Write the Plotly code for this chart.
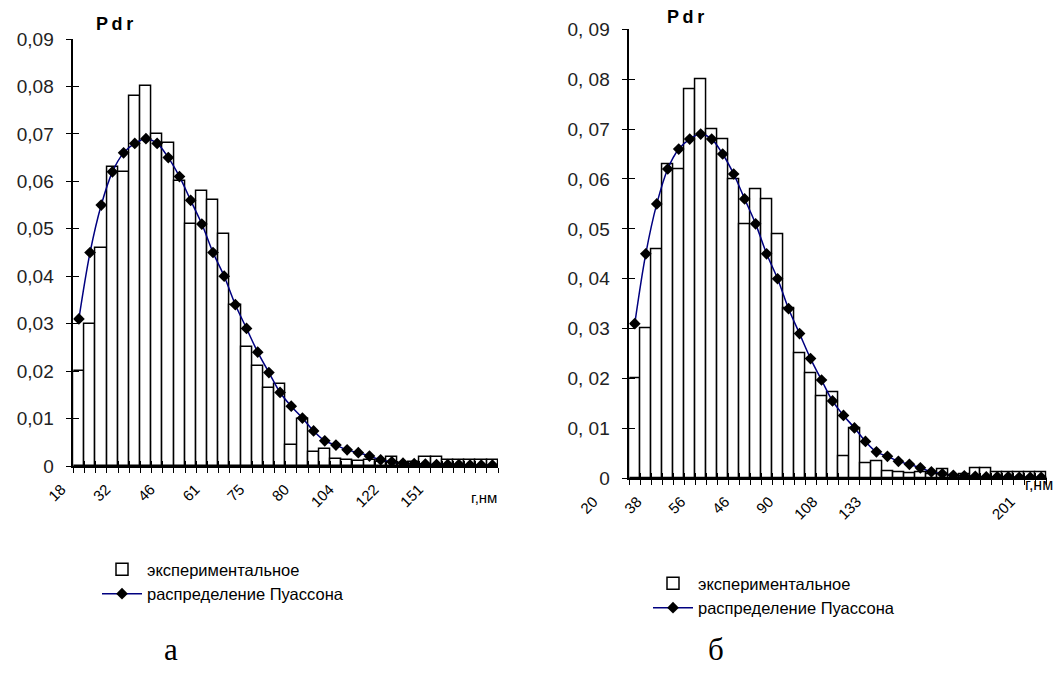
import numpy as np
import plotly.graph_objects as go

# ---- data (both panels show the same distribution) ----
experimental = [0.020, 0.030, 0.046, 0.063, 0.062, 0.078, 0.080, 0.070, 0.068, 0.060,
                0.051, 0.058, 0.056, 0.049, 0.034, 0.025, 0.021, 0.0165, 0.0173, 0.0045,
                0.010, 0.003, 0.0035, 0.0014, 0.0012, 0.0010, 0.0012, 0.0008, 0.0018, 0.0006,
                0.0008, 0.0020, 0.0020, 0.0012, 0.0012, 0.0012, 0.0012, 0.0012]
poisson = [0.031, 0.045, 0.055, 0.062, 0.066, 0.068, 0.069, 0.068, 0.065, 0.061,
           0.056, 0.051, 0.045, 0.040, 0.034, 0.029, 0.024, 0.0197, 0.0155, 0.0126,
           0.0101, 0.0074, 0.0053, 0.0044, 0.0034, 0.0028, 0.0021, 0.0013, 0.0009, 0.0006,
           0.0005, 0.0004, 0.0003, 0.0003, 0.0003, 0.0002, 0.0002, 0.0002]

y_tick_vals = [0, 0.01, 0.02, 0.03, 0.04, 0.05, 0.06, 0.07, 0.08, 0.09]
y_tick_text_a = ["0", "0,01", "0,02", "0,03", "0,04", "0,05", "0,06", "0,07", "0,08", "0,09"]
y_tick_text_b = ["0", "0, 01", "0, 02", "0, 03", "0, 04", "0, 05", "0, 06", "0, 07", "0, 08", "0, 09"]
# tick labels and the category boundary each one is attached to
x_labels_a = ["18", "32", "46", "61", "75", "80", "104", "122", "151"]
x_label_pos_a = [0, 4, 8, 12, 16, 20, 24, 28, 32]
x_labels_b = ["20", "38", "56", "46", "90", "108", "133", "201"]
x_label_pos_b = [0, 4, 8, 12, 16, 20, 24, 38]

name_bar = "экспериментальное"
name_line = "распределение Пуассона"

W, H = 1058, 680
FONT = "Liberation Sans, Arial, sans-serif"

n = len(experimental)
xs = np.arange(n)
bounds = np.arange(n + 1) - 0.5


def tick_text(labels, positions):
    out = [""] * len(bounds)
    for lab, p in zip(labels, positions):
        out[p] = lab
    return out


fig = go.Figure()

panels = [
    ("x", "y", "x3", "y3", "legend"),
    ("x2", "y2", "x4", "y4", "legend2"),
]

for xa, ya, xi, yi, lg in panels:
    fig.add_trace(go.Bar(x=xs, y=experimental, width=1.0, name=name_bar,
                         marker=dict(color="white", line=dict(color="black", width=1.5)),
                         xaxis=xa, yaxis=ya, legend=lg))
    fig.add_trace(go.Scatter(x=xs, y=poisson, mode="lines+markers", name=name_line,
                             line=dict(color="#000080", width=1.5, shape="spline"),
                             marker=dict(symbol="diamond", size=9, color="black"),
                             xaxis=xa, yaxis=ya, legend=lg))
    fig.add_trace(go.Scatter(x=[None], y=[None], mode="markers", showlegend=False,
                             hoverinfo="skip", xaxis=xi, yaxis=yi))


def px_x(p):
    return p / W


def px_y(p):
    return 1 - p / H


ax_a = dict(x0=73.3, x1=498.0, y0=466.0, y1=39.0)
ax_b = dict(x0=629.3, x1=1046.7, y0=478.3, y1=29.3)

common_x = dict(range=[-0.5, n - 0.5], showgrid=False, zeroline=False, automargin=False,
                tickmode="array", tickvals=list(bounds), tickcolor="black", tickwidth=1.3)
common_y = dict(range=[0, 0.09], showgrid=False, zeroline=False, automargin=False,
                tickmode="array", tickvals=y_tick_vals, tickcolor="black", tickwidth=1.3)

for suffix, inner, ax, labels, lpos, shift, ytext in [
        ("", "3", ax_a, x_labels_a, x_label_pos_a, -12, y_tick_text_a),
        ("2", "4", ax_b, x_labels_b, x_label_pos_b, -36, y_tick_text_b)]:
    xd = [px_x(ax["x0"]), px_x(ax["x1"])]
    yd = [px_y(ax["y0"]), px_y(ax["y1"])]
    xname = "x" + suffix
    yname = "y" + suffix
    fig.layout["xaxis" + suffix] = dict(
        common_x, domain=xd, anchor=yname, showline=True, linecolor="black", linewidth=1.5,
        ticks="outside", ticklen=5, ticktext=tick_text(labels, lpos), tickangle=-45,
        ticklabelshift=shift, ticklabelstandoff=2,
        tickfont=dict(family=FONT, size=15, color="black"))
    fig.layout["yaxis" + suffix] = dict(
        common_y, domain=yd, anchor=xname, showline=True, linecolor="black", linewidth=1.5,
        ticks="outside", ticklen=6, ticktext=ytext, ticklabelstandoff=8,
        tickfont=dict(family=FONT, size=19, color="#222"))
    fig.layout["xaxis" + inner] = dict(
        common_x, overlaying=xname, anchor=yname, ticks="inside", ticklen=5,
        showticklabels=False, showline=False)
    fig.layout["yaxis" + inner] = dict(
        common_y, overlaying=yname, anchor=xname, ticks="inside", ticklen=6,
        showticklabels=False, showline=False)

pdr = "<b>P\u2009d\u2009r</b>"
texts = [
    dict(text=pdr, x=px_x(114), y=px_y(24), size=18),
    dict(text=pdr, x=px_x(685), y=px_y(17), size=18),
    dict(text="г,нм", x=px_x(484), y=px_y(498), size=15),
    dict(text="г,нм", x=px_x(1039), y=px_y(484), size=16),
]
for a in texts:
    fig.add_annotation(xref="paper", yref="paper", showarrow=False, xanchor="center",
                       yanchor="middle", text=a["text"], x=a["x"], y=a["y"],
                       font=dict(family=FONT, size=a["size"], color="black"))
for txt, cx in [("а", 171), ("б", 716)]:
    fig.add_annotation(xref="paper", yref="paper", showarrow=False, text=txt,
                       xanchor="center", yanchor="middle",
                       x=px_x(cx), y=px_y(649),
                       font=dict(family="Liberation Serif, Times New Roman, serif", size=31, color="black"))

leg_common = dict(xanchor="left", yanchor="top", bgcolor="rgba(0,0,0,0)",
                  font=dict(family=FONT, size=16.5, color="black"),
                  tracegroupgap=2, itemwidth=40, traceorder="normal")
fig.update_layout(
    width=W, height=H, autosize=False,
    margin=dict(l=0, r=0, t=0, b=0),
    paper_bgcolor="white", plot_bgcolor="white",
    barmode="overlay", bargap=0,
    legend=dict(leg_common, x=px_x(97), y=px_y(552)),
    legend2=dict(leg_common, x=px_x(648), y=px_y(566)),
)

fig.write_html("out.html", config={"displayModeBar": False},
               post_script="document.body.style.margin='0px';")
